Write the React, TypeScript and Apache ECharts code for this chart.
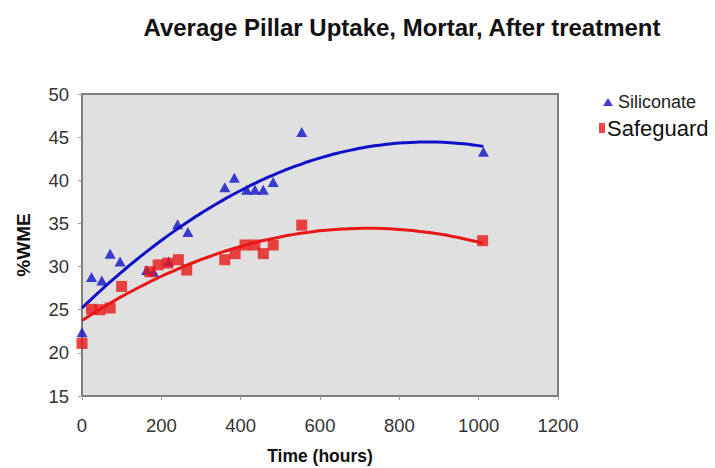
import React, { useEffect, useRef } from "react";
import * as echarts from "echarts";

const siliconateT = [0, 24, 50, 71, 96, 163, 180, 218, 241, 267, 360, 384, 415, 436, 457, 482, 554, 1012];
const siliconateV = [22.4, 28.8, 28.4, 31.5, 30.6, 29.6, 29.4, 30.6, 34.9, 34.0, 39.2, 40.3, 38.9, 38.9, 38.9, 39.8, 45.6, 43.3];
const safeguardT = [0, 24, 45, 71, 100, 171, 192, 216, 243, 264, 360, 386, 411, 436, 457, 482, 554, 1010];
const safeguardV = [21.1, 25.05, 25.0, 25.2, 27.7, 29.4, 30.2, 30.4, 30.8, 29.6, 30.8, 31.5, 32.5, 32.5, 31.5, 32.5, 34.8, 33.0];
const xTicks = [0, 200, 400, 600, 800, 1000, 1200];

// quadratic least-squares trendline (like Excel's polynomial trendline, order 2)
function quadFit(xs: number[], ys: number[]) {
  const n = xs.length;
  let s1 = 0, s2 = 0, s3 = 0, s4 = 0, t0 = 0, t1 = 0, t2 = 0;
  for (let i = 0; i < n; i++) {
    const x = xs[i], y = ys[i];
    s1 += x; s2 += x * x; s3 += x * x * x; s4 += x * x * x * x;
    t0 += y; t1 += x * y; t2 += x * x * y;
  }
  const A = [[n, s1, s2, t0], [s1, s2, s3, t1], [s2, s3, s4, t2]];
  for (let c = 0; c < 3; c++) {
    for (let r = c + 1; r < 3; r++) {
      const f = A[r][c] / A[c][c];
      for (let k = c; k < 4; k++) A[r][k] -= f * A[c][k];
    }
  }
  const coef = [0, 0, 0];
  for (let r = 2; r >= 0; r--) {
    let s = A[r][3];
    for (let k = r + 1; k < 3; k++) s -= A[r][k] * coef[k];
    coef[r] = s / A[r][r];
  }
  return (x: number) => coef[0] + coef[1] * x + coef[2] * x * x;
}

function trend(xs: number[], ys: number[]) {
  const f = quadFit(xs, ys);
  const lo = Math.min(...xs), hi = Math.max(...xs);
  const pts: number[][] = [];
  const steps = 60;
  for (let i = 0; i <= steps; i++) {
    const x = lo + ((hi - lo) * i) / steps;
    pts.push([x, f(x)]);
  }
  return pts;
}

export default function App() {
  const ref = useRef<HTMLDivElement>(null);
  useEffect(() => {
    if (!ref.current) return;
    const chart = echarts.init(ref.current, null, { renderer: "svg" });
    const font = "Liberation Sans, Arial, sans-serif";
    const blue = "#1010c8";
    const red = "#e81818";
    chart.setOption({
      animation: false,
      backgroundColor: "#ffffff",
      title: {
        text: "Average Pillar Uptake, Mortar, After treatment",
        left: 397,
        top: 10,
        textAlign: "center",
        textStyle: { fontFamily: font, fontSize: 24, fontWeight: "bold", color: "#111" },
      },
      legend: [
        {
          data: [{ name: "Siliconate", icon: "triangle" }],
          left: 598,
          top: 88,
          itemWidth: 10,
          itemHeight: 8,
          textStyle: { fontFamily: font, fontSize: 18, color: "#222" },
        },
        {
          data: [{ name: "Safeguard", icon: "rect" }],
          left: 594,
          top: 112,
          itemWidth: 6,
          itemHeight: 10,
          textStyle: { fontFamily: font, fontSize: 22, color: "#111", padding: [0, 0, 0, -3] },
        },
      ],
      grid: {
        left: 82,
        top: 94,
        right: 157,
        bottom: 72,
        outerBoundsMode: "none",
        containLabel: false,
        show: true,
        backgroundColor: "#e0e0e0",
        borderColor: "#7f7f7f",
        borderWidth: 2,
      },
      xAxis: {
        type: "value",
        min: 0,
        max: 1200,
        interval: 200,
        name: "Time (hours)",
        nameLocation: "middle",
        nameGap: 51,
        nameTextStyle: { fontFamily: font, fontSize: 17.5, fontWeight: "bold", color: "#111" },
        axisLine: { show: true, lineStyle: { color: "#7f7f7f", width: 2 } },
        axisTick: { show: true, length: 4, lineStyle: { color: "#999" } },
        axisLabel: {
          fontFamily: font, fontSize: 18.5, color: "#333", margin: 20,
          formatter: (v: number) => (xTicks.includes(v) ? String(v) : ""),
        },
        splitLine: { show: false },
      },
      yAxis: {
        type: "value",
        min: 15,
        max: 50,
        interval: 5,
        name: "%WME",
        nameLocation: "middle",
        nameGap: 49,
        nameRotate: 90,
        nameTextStyle: { fontFamily: font, fontSize: 19, fontWeight: "bold", color: "#111" },
        axisLine: { show: true, lineStyle: { color: "#7f7f7f", width: 2 } },
        axisTick: { show: true, length: 4, lineStyle: { color: "#999" } },
        axisLabel: { fontFamily: font, fontSize: 18.5, color: "#333", margin: 13 },
        splitLine: { show: false },
      },
      series: [
        {
          name: "Siliconate trend",
          type: "line",
          data: trend(siliconateT, siliconateV),
          showSymbol: false,
          smooth: true,
          lineStyle: { color: blue, width: 3 },
          silent: true,
          z: 2,
        },
        {
          name: "Safeguard trend",
          type: "line",
          data: trend(safeguardT, safeguardV),
          showSymbol: false,
          smooth: true,
          lineStyle: { color: red, width: 3 },
          silent: true,
          z: 2,
        },
        {
          name: "Siliconate",
          type: "scatter",
          symbol: "triangle",
          symbolSize: [11, 10],
          data: siliconateT.map((t, i) => [t, siliconateV[i]]),
          itemStyle: { color: blue },
          z: 3,
        },
        {
          name: "Safeguard",
          type: "scatter",
          symbol: "rect",
          symbolSize: [11, 11],
          data: safeguardT.map((t, i) => [t, safeguardV[i]]),
          itemStyle: { color: red },
          z: 3,
        },
      ],
    });
    return () => chart.dispose();
  }, []);
  return <div ref={ref} style={{ width: 715, height: 468, position: "absolute", left: 0, top: 0 }} />;
}
